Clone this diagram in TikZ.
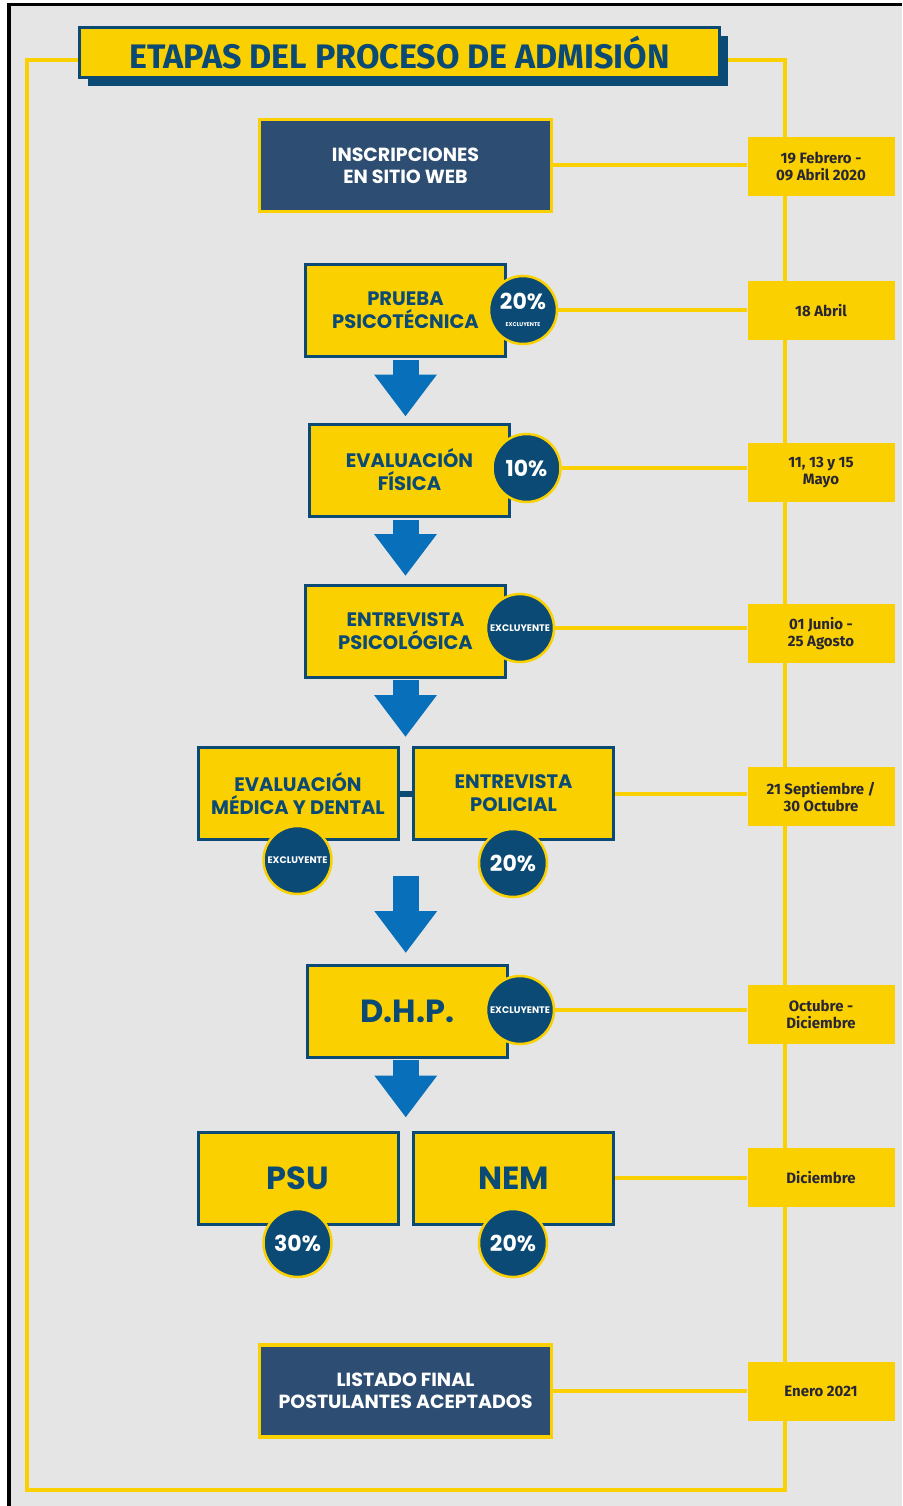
\documentclass[tikz,border=0pt]{standalone}
\usepackage{fontspec}
\setmainfont{Poppins}
\newfontfamily\datefont{Fira Sans}
\usetikzlibrary{arrows.meta,shadows,calc}
\definecolor{gold}{RGB}{250,208,0}
\definecolor{navy}{RGB}{11,74,116}
\definecolor{navyfill}{RGB}{45,78,114}
\definecolor{arrowblue}{RGB}{8,112,186}
\definecolor{paper}{RGB}{229,229,229}
\definecolor{dateink}{RGB}{40,38,52}
\begin{document}
\begin{tikzpicture}[x=1pt,y=-1pt,
    stagebox/.style={draw=navy,line width=3pt,fill=gold,minimum width=200pt,minimum height=92pt,
        align=center,text=navy,font=\bfseries\fontsize{19.5}{23}\selectfont},
    navybox/.style={draw=gold,line width=3.5pt,fill=navyfill,minimum width=292pt,minimum height=92pt,
        align=center,text=white,font=\bfseries\fontsize{19}{22}\selectfont},
    score/.style={circle,draw=gold,line width=2.5pt,fill=navy,minimum size=68pt,inner sep=0pt,
        align=center,text=white,font=\bfseries\fontsize{22}{22}\selectfont},
    datebox/.style={fill=gold,minimum width=147pt,minimum height=59pt,align=center,
        text=dateink,font=\datefont\bfseries\fontsize{15}{17}\selectfont},
    link/.style={draw=gold,line width=4pt},
    flowarrow/.style={draw=arrowblue,line width=26pt,-{Triangle[width=60pt,length=42pt]}}]
    \useasboundingbox (0,0) rectangle (902,1506);
    % page and frame
    \fill[white] (0,0) rectangle (902,1506);
    \fill[paper] (9,4.5) rectangle (902,1506);
    \draw[line width=3.5pt] (9,1506) -- (9,4.5) -- (902,4.5);
    \draw[link] (80,60) -- (27,60) -- (27,1490) -- (785,1490) -- (785,60) -- (720,60);
    \node[draw=navy,line width=3pt,fill=gold,minimum width=640pt,minimum height=50pt,
        drop shadow={shadow xshift=8pt,shadow yshift=-8pt,fill=navy,opacity=1},
        text=navy,font=\datefont\bfseries\fontsize{34}{34}\selectfont] (title) at (399.5,53)
        {ETAPAS DEL PROCESO DE ADMISIÓN};

    % stages
    \node[navybox] (ins) at (405.5,165.5) {INSCRIPCIONES\\EN SITIO WEB};
    \node[stagebox] (pru) at (405.5,310.5) {PRUEBA\\PSICOTÉCNICA};
    \node[stagebox] (fis) at (409.5,470) {EVALUACIÓN\\FÍSICA};
    \node[stagebox] (psi) at (405.5,631.5) {ENTREVISTA\\PSICOLÓGICA};
    \node[stagebox] (med) at (298,793.5) {EVALUACIÓN\\MÉDICA Y DENTAL};
    \node[stagebox] (pol) at (513.5,793.5) {ENTREVISTA\\POLICIAL};
    \node[stagebox,font=\bfseries\fontsize{32}{32}\selectfont] (dhp) at (407.5,1011.5) {D.H.P.};
    \node[stagebox,font=\bfseries\fontsize{32}{32}\selectfont] (psu) at (298,1178) {PSU};
    \node[stagebox,font=\bfseries\fontsize{32}{32}\selectfont] (nem) at (513.5,1178) {NEM};
    \node[navybox] (lis) at (405.5,1391) {LISTADO FINAL\\POSTULANTES ACEPTADOS};

    % weights
    \node[score] (pruc) at (523,310) {20\%\\[-5pt]{\fontsize{5.5}{6}\selectfont EXCLUYENTE}};
    \node[score] (fisc) at (526.5,468) {10\%};
    \node[score,font=\bfseries\fontsize{9.5}{10}\selectfont] (psic) at (520,628) {EXCLUYENTE};
    \node[score,font=\bfseries\fontsize{9.5}{10}\selectfont] (medc) at (297.5,860) {EXCLUYENTE};
    \node[score] (polc) at (513,863) {20\%};
    \node[score,font=\bfseries\fontsize{9.5}{10}\selectfont] (dhpc) at (520,1010) {EXCLUYENTE};
    \node[score] (psuc) at (297.5,1243) {30\%};
    \node[score] (nemc) at (513,1243) {20\%};

    % dates
    \node[datebox] (d1) at (821,167) {19 Febrero -\\09 Abril 2020};
    \node[datebox] (d2) at (821,310.5) {18 Abril};
    \node[datebox] (d3) at (821,472) {11, 13 y 15\\Mayo};
    \node[datebox] (d4) at (821,633.5) {01 Junio -\\25 Agosto};
    \node[datebox] (d5) at (821,796.5) {21 Septiembre /\\30 Octubre};
    \node[datebox] (d6) at (821,1014.5) {Octubre -\\Diciembre};
    \node[datebox] (d7) at (821,1177.5) {Diciembre};
    \node[datebox] (d8) at (821,1391.5) {Enero 2021};

    % links to the dates
    \draw[link] (ins.east) -- (ins.east -| d1.west);
    \draw[link] (pruc.east) -- (pruc.east -| d2.west);
    \draw[link] (fisc.east) -- (fisc.east -| d3.west);
    \draw[link] (psic.east) -- (psic.east -| d4.west);
    \draw[link] (pol.east) -- (pol.east -| d5.west);
    \draw[link] (dhpc.east) -- (dhpc.east -| d6.west);
    \draw[link] (nem.east) -- (nem.east -| d7.west);
    \draw[link] (lis.east) -- (lis.east -| d8.west);
    \draw[navy,line width=6pt] (med.east) -- (pol.west);

    % flow
    \coordinate (gap1) at ($(med.east)!0.5!(pol.west)$);
    \coordinate (gap2) at ($(psu.east)!0.5!(nem.west)$);
    \draw[flowarrow] ($(pru.south)+(0,2)$) -- ($(pru.south |- fis.north)+(0,-6)$);
    \draw[flowarrow] ($(pru.south |- fis.south)+(0,2)$) -- ($(pru.south |- psi.north)+(0,-8)$);
    \draw[flowarrow] ($(psi.south)+(0,1)$) -- ($(psi.south |- med.north)+(0,-9)$);
    \draw[flowarrow] ($(gap1 |- med.south)+(0,35)$) -- ($(gap1 |- dhp.north)+(0,-11)$);
    \draw[flowarrow] ($(gap2 |- dhp.south)+(0,1)$) -- ($(gap2 |- psu.north)+(0,-13)$);
\end{tikzpicture}
\end{document}
